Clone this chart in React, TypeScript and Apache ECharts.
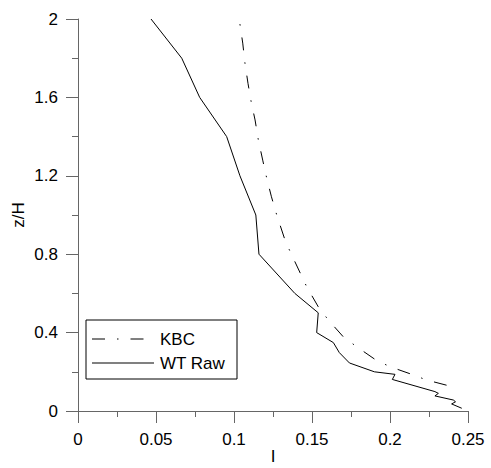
import React, { useEffect, useRef } from "react";
import * as echarts from "echarts";

const kbcI = [0.1038, 0.1056, 0.107, 0.109, 0.111, 0.1135, 0.1156, 0.1184, 0.121, 0.124, 0.1274, 0.1327, 0.136, 0.1466, 0.154, 0.1605, 0.17, 0.1786, 0.191, 0.2, 0.215, 0.2235, 0.238];
const kbcZ = [1.974, 1.877, 1.776, 1.67, 1.578, 1.485, 1.383, 1.28, 1.187, 1.093, 1.0, 0.872, 0.813, 0.634, 0.532, 0.464, 0.379, 0.328, 0.26, 0.226, 0.184, 0.158, 0.128];

const wtI = [0.0468, 0.0665, 0.078, 0.0953, 0.1038, 0.114, 0.116, 0.139, 0.154, 0.153, 0.1637, 0.1675, 0.174, 0.19, 0.2032, 0.2015, 0.2288, 0.231, 0.2288, 0.2406, 0.242, 0.2395, 0.246];
const wtZ = [2.0, 1.8, 1.6, 1.4, 1.2, 1.0, 0.8, 0.6, 0.501, 0.4, 0.349, 0.298, 0.245, 0.2, 0.187, 0.161, 0.099, 0.09, 0.077, 0.056, 0.047, 0.036, 0.014];

const seriesNames = ["KBC", "WT Raw"];
const xAxisName = "I";
const yAxisName = "z/H";

const FONT = "Arial, 'Liberation Sans', sans-serif";
const AXIS_COLOR = "#666";
const KBC_DASH = [13, 12, 1.5, 12];

export default function App() {
  const ref = useRef<HTMLDivElement>(null);
  useEffect(() => {
    if (!ref.current) return;
    const chart = echarts.init(ref.current, undefined, { renderer: "svg", width: 491, height: 468 });
    const kbc = kbcI.map((v, i) => [v, kbcZ[i]]);
    const wt = wtI.map((v, i) => [v, wtZ[i]]);
    const axisCommon = {
      axisLine: { show: true, onZero: false, lineStyle: { color: AXIS_COLOR, width: 1 } },
      axisTick: { show: true, inside: false, length: 12, lineStyle: { color: AXIS_COLOR, width: 1 } },
      minorTick: { show: true, splitNumber: 2, length: 6, lineStyle: { color: AXIS_COLOR, width: 1 } },
      splitLine: { show: false },
      minorSplitLine: { show: false },
      axisLabel: { color: "#000", fontSize: 17, fontFamily: FONT, margin: 20 },
      nameMoveOverlap: false,
    };
    chart.setOption({
      animation: false,
      backgroundColor: "#fff",
      grid: { left: 78, top: 19, right: 23, bottom: 57, containLabel: false, outerBoundsMode: "none" },
      xAxis: {
        type: "value",
        min: 0,
        max: 0.25,
        interval: 0.05,
        name: xAxisName,
        nameLocation: "middle",
        nameGap: 37,
        nameTextStyle: { color: "#000", fontSize: 17, fontFamily: FONT, lineHeight: 17 },
        ...axisCommon,
      },
      yAxis: {
        type: "value",
        min: 0,
        max: 2,
        interval: 0.4,
        name: yAxisName,
        nameLocation: "middle",
        nameGap: 51,
        nameTextStyle: { color: "#000", fontSize: 17, fontFamily: FONT, lineHeight: 17 },
        ...axisCommon,
      },
      graphic: [
        {
          type: "rect",
          shape: { x: 86, y: 320, width: 151, height: 59 },
          style: { fill: "#fff", stroke: "#000", lineWidth: 1 },
          z: 10,
        },
        {
          type: "line",
          shape: { x1: 92, y1: 339, x2: 154, y2: 339 },
          style: { stroke: "#000", lineWidth: 1, lineDash: KBC_DASH },
          z: 11,
        },
        {
          type: "line",
          shape: { x1: 92, y1: 363, x2: 154, y2: 363 },
          style: { stroke: "#808080", lineWidth: 2 },
          z: 11,
        },
        {
          type: "text",
          x: 160,
          y: 339,
          style: { text: seriesNames[0], fill: "#000", fontSize: 17, fontFamily: FONT, verticalAlign: "middle", align: "left" },
          z: 11,
        },
        {
          type: "text",
          x: 160,
          y: 363,
          style: { text: seriesNames[1], fill: "#000", fontSize: 17, fontFamily: FONT, verticalAlign: "middle", align: "left" },
          z: 11,
        },
      ],
      series: [
        {
          name: seriesNames[0],
          type: "line",
          data: kbc,
          symbol: "none",
          smooth: false,
          lineStyle: { color: "#000", width: 1, type: KBC_DASH, dashOffset: 25 },
          itemStyle: { color: "#000" },
        },
        {
          name: seriesNames[1],
          type: "line",
          data: wt,
          symbol: "none",
          smooth: false,
          lineStyle: { color: "#000", width: 1, type: "solid" },
          itemStyle: { color: "#000" },
        },
      ],
    });
    return () => chart.dispose();
  }, []);
  return (
    <div
      ref={ref}
      style={{ position: "fixed", left: 0, top: 0, width: 491, height: 468, background: "#fff" }}
    />
  );
}
